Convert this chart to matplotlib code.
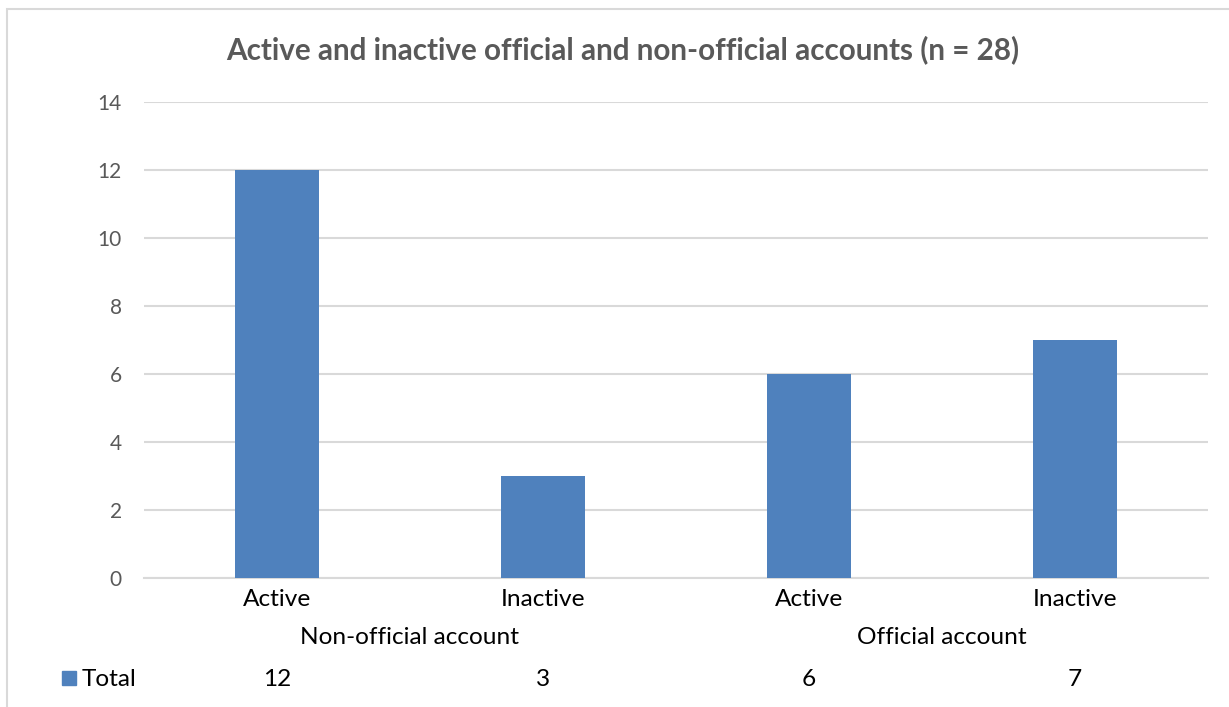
import matplotlib
matplotlib.use("Agg")
import matplotlib.pyplot as plt
from matplotlib.patches import Rectangle

categories = ["Active", "Inactive", "Active", "Inactive"]
groups = ["Non-official account", "Official account"]
values = [12, 3, 6, 7]
series_name = "Total"
title = "Active and inactive official and non-official accounts (n = 28)"
yticks = [0, 2, 4, 6, 8, 10, 12, 14]

W, H = 1229, 707
plt.rcParams["font.family"] = ["Lato", "DejaVu Sans"]

fig = plt.figure(figsize=(W / 100, H / 100), dpi=100)

# outer chart frame
fig.patches.append(Rectangle((7 / W, -0.1), 1.2, (H - 9) / H + 0.1,
                             transform=fig.transFigure, fill=False,
                             edgecolor="#d9d9d9", linewidth=1.5))

left, right, top, bottom = 144, 1208, 102, 578
ax = fig.add_axes([left / W, (H - bottom) / H, (right - left) / W, (bottom - top) / H])

bar_color = "#4f81bd"
x = list(range(len(values)))
ax.bar(x, values, width=0.316, color=bar_color, zorder=3)
ax.set_xlim(-0.5, len(values) - 0.5)
ax.set_ylim(0, 14)
ax.set_yticks(yticks)
ax.set_yticklabels([str(t) for t in yticks], fontsize=15, color="#595959")
ax.yaxis.grid(True, color="#d9d9d9", linewidth=1.5, zorder=0)
ax.tick_params(axis="y", length=0, pad=16)
for s in ["top", "right", "left"]:
    ax.spines[s].set_visible(False)
ax.spines["bottom"].set_color("#d9d9d9")
ax.spines["bottom"].set_linewidth(1.5)
ax.set_xticks([])

ax_h = bottom - top
def ay(py):
    # convert a figure pixel row into axes fraction
    return (bottom - py) / ax_h

fs = 17.6
tr = ax.get_xaxis_transform()
for xi, c in zip(x, categories):
    ax.text(xi, ay(599), c, transform=tr, ha="center", va="center",
            fontsize=fs, color="black")
for gi, g in enumerate(groups):
    ax.text(gi * 2 + 0.5, ay(638), g, transform=tr, ha="center", va="center",
            fontsize=fs, color="black")
for xi, v in zip(x, values):
    ax.text(xi, ay(679), str(v), transform=tr, ha="center", va="center",
            fontsize=fs, color="black")

# data table legend key
fig.patches.append(Rectangle((62 / W, (H - 685) / H), 14 / W, 14 / H,
                             transform=fig.transFigure, color=bar_color))
fig.text(82 / W, (H - 679) / H, series_name, ha="left", va="center",
         fontsize=fs, color="black")

fig.text(623 / W, (H - 50) / H, title, ha="center", va="center",
         fontsize=21.3, fontweight="bold", color="#595959")

fig.savefig("out.png", dpi=100)
